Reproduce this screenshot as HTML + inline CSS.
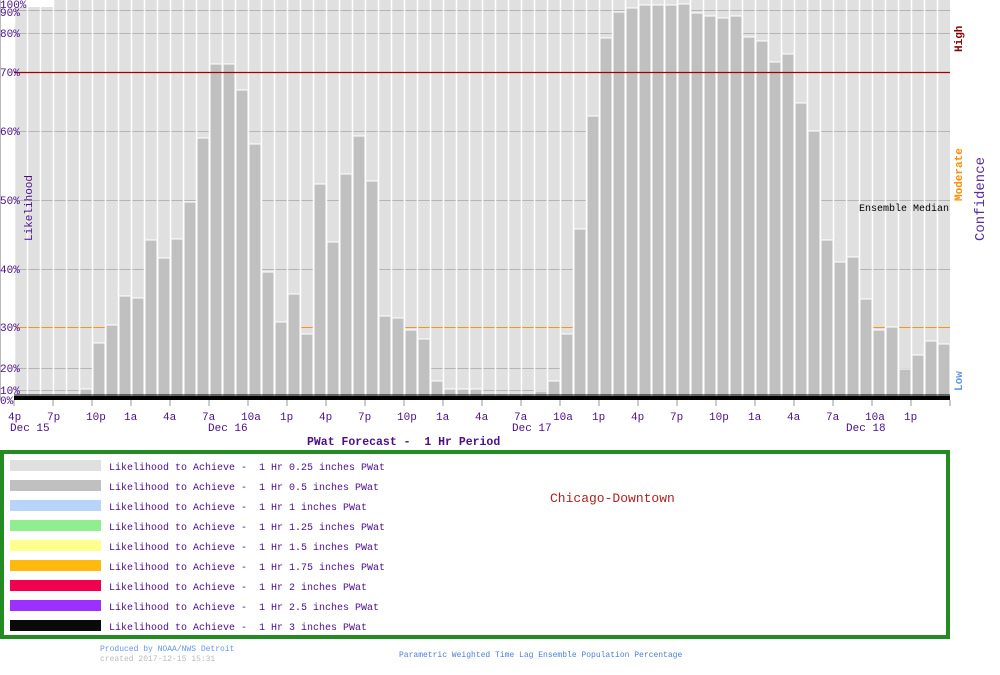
<!DOCTYPE html>
<html><head><meta charset="utf-8"><style>
body{margin:0;background:#fff;width:1000px;height:670px;overflow:hidden}
svg text{font-family:"Liberation Mono",monospace;white-space:pre}
</style></head><body>
<svg id="s" width="1000" height="670" xmlns="http://www.w3.org/2000/svg" xml:space="preserve">
<rect x="0" y="0" width="1000" height="670" fill="#fff"/>
<rect x="14" y="0" width="936" height="399" fill="#e0e0e0"/>
<rect x="14" y="0" width="40" height="7" fill="#fff"/>
<line x1="0" y1="0" x2="0" y2="400" stroke="#bbb" stroke-width="2"/>
<g id="grid" stroke="#b4b4b4" stroke-width="1"></g>
<g id="bars"></g>
<line x1="14" y1="72.5" x2="950" y2="72.5" stroke="#a00000" stroke-width="1.3"/>
<rect x="14" y="396" width="936" height="4" fill="#000"/>
<line x1="14" y1="395" x2="950" y2="395" stroke="#000" stroke-width="1"/>
<g id="ticks" stroke="#999"></g>
<g font-size="11" fill="#4b0f8c">
<text x="0" y="8">100%</text><text x="0" y="16">90%</text><text x="0" y="37">80%</text>
<text x="0" y="76">70%</text><text x="0" y="135">60%</text><text x="0" y="204">50%</text>
<text x="0" y="273">40%</text><text x="0" y="331">30%</text><text x="0" y="372">20%</text>
<text x="0" y="394">10%</text><text x="0" y="404">0%</text>
</g>
<g font-size="11" fill="#4b0f8c">
<text x="8" y="420">4p</text><text x="47" y="420">7p</text><text x="86" y="420">10p</text>
<text x="124" y="420">1a</text><text x="163" y="420">4a</text><text x="202" y="420">7a</text>
<text x="241" y="420">10a</text><text x="280" y="420">1p</text><text x="319" y="420">4p</text>
<text x="358" y="420">7p</text><text x="397" y="420">10p</text><text x="436" y="420">1a</text>
<text x="475" y="420">4a</text><text x="514" y="420">7a</text><text x="553" y="420">10a</text>
<text x="592" y="420">1p</text><text x="631" y="420">4p</text><text x="670" y="420">7p</text>
<text x="709" y="420">10p</text><text x="748" y="420">1a</text><text x="787" y="420">4a</text>
<text x="826" y="420">7a</text><text x="865" y="420">10a</text><text x="904" y="420">1p</text>
<text x="10" y="431">Dec 15</text><text x="208" y="431">Dec 16</text>
<text x="512" y="431">Dec 17</text><text x="846" y="431">Dec 18</text>
</g>
<text x="307" y="445" font-size="11.5" font-weight="bold" fill="#4b0f8c">PWat Forecast -  1 Hr Period</text>
<text transform="translate(32,241) rotate(-90)" font-size="11" fill="#4b0f8c">Likelihood</text>
<text transform="translate(962,52) rotate(-90)" font-size="11" font-weight="bold" fill="#8b0000">High</text>
<text transform="translate(962,201) rotate(-90)" font-size="11" font-weight="bold" fill="#ff8c00">Moderate</text>
<text transform="translate(962,391) rotate(-90)" font-size="11" font-weight="bold" fill="#6495ed">Low</text>
<text transform="translate(984,241) rotate(-90)" font-size="14" fill="#5a2ca0">Confidence</text>
<text x="859" y="211" font-size="10" fill="#000">Ensemble Median</text>
<rect x="2" y="452" width="946" height="185" fill="none" stroke="#228b22" stroke-width="4"/>
<g id="leg"></g>
<text x="550" y="502" font-size="13" fill="#b22222">Chicago-Downtown</text>
<text x="100" y="651" font-size="8" fill="#6495ed">Produced by NOAA/NWS Detroit</text>
<text x="100" y="661" font-size="8" fill="#bbb">created 2017-12-15 15:31</text>
<text x="399" y="657" font-size="8" fill="#4a7fd0">Parametric Weighted Time Lag Ensemble Population Percentage</text>
<g font-size="10" fill="#4b0f8c">
<text x="109" y="470">Likelihood to Achieve -  1 Hr 0.25 inches PWat</text>
<text x="109" y="490">Likelihood to Achieve -  1 Hr 0.5 inches PWat</text>
<text x="109" y="510">Likelihood to Achieve -  1 Hr 1 inches PWat</text>
<text x="109" y="530">Likelihood to Achieve -  1 Hr 1.25 inches PWat</text>
<text x="109" y="550">Likelihood to Achieve -  1 Hr 1.5 inches PWat</text>
<text x="109" y="570">Likelihood to Achieve -  1 Hr 1.75 inches PWat</text>
<text x="109" y="590">Likelihood to Achieve -  1 Hr 2 inches PWat</text>
<text x="109" y="610">Likelihood to Achieve -  1 Hr 2.5 inches PWat</text>
<text x="109" y="630">Likelihood to Achieve -  1 Hr 3 inches PWat</text>
</g>
</svg>
<script>
var NS="http://www.w3.org/2000/svg";
function el(p,t,a){var e=document.createElementNS(NS,t);for(var k in a)e.setAttribute(k,a[k]);p.appendChild(e);return e;}
var g=document.getElementById("grid");
[10,33,131,200,269,368,390].forEach(function(y){el(g,"line",{x1:14,x2:950,y1:y+0.5,y2:y+0.5});});
el(g,"line",{x1:14,x2:950,y1:327.5,y2:327.5,stroke:"#f7941d"});
var tops=[397,397,397,397,397,389,343,325,296,298,240,258,239,202,138,64,64,90,144,272,322,294,334,184,242,174,136,181,316,318,330,339,381,389,389,389,395,395,395,395,391,381,334,229,116,38,12,8,5,5,5,4,13,16,18,16,37,41,62,54,103,131,240,262,257,299,330,327,369,355,341,344];
var b=document.getElementById("bars");
for(var i=0;i<72;i++){var x=14+13*i;
el(b,"rect",{x:x+1,y:tops[i],width:12,height:399-tops[i],fill:"#c0c0c0",stroke:"#fff","stroke-width":1});
el(b,"line",{x1:x+0.5,x2:x+0.5,y1:0,y2:399,stroke:"#fff","stroke-width":1.5});}
var t=document.getElementById("ticks");
for(var i=0;i<=24;i++){var x=14+39*i;el(t,"line",{x1:x,x2:x,y1:400,y2:406});}
var cols=["#e0e0e0","#c0c0c0","#b8d4f8","#90ee90","#ffff90","#ffb90f","#f0004f","#9b30ff","#0a0a0a"];
var lg=document.getElementById("leg");
cols.forEach(function(c,i){el(lg,"rect",{x:10,y:460+20*i,width:91,height:11,fill:c});});
</script>
</body></html>
